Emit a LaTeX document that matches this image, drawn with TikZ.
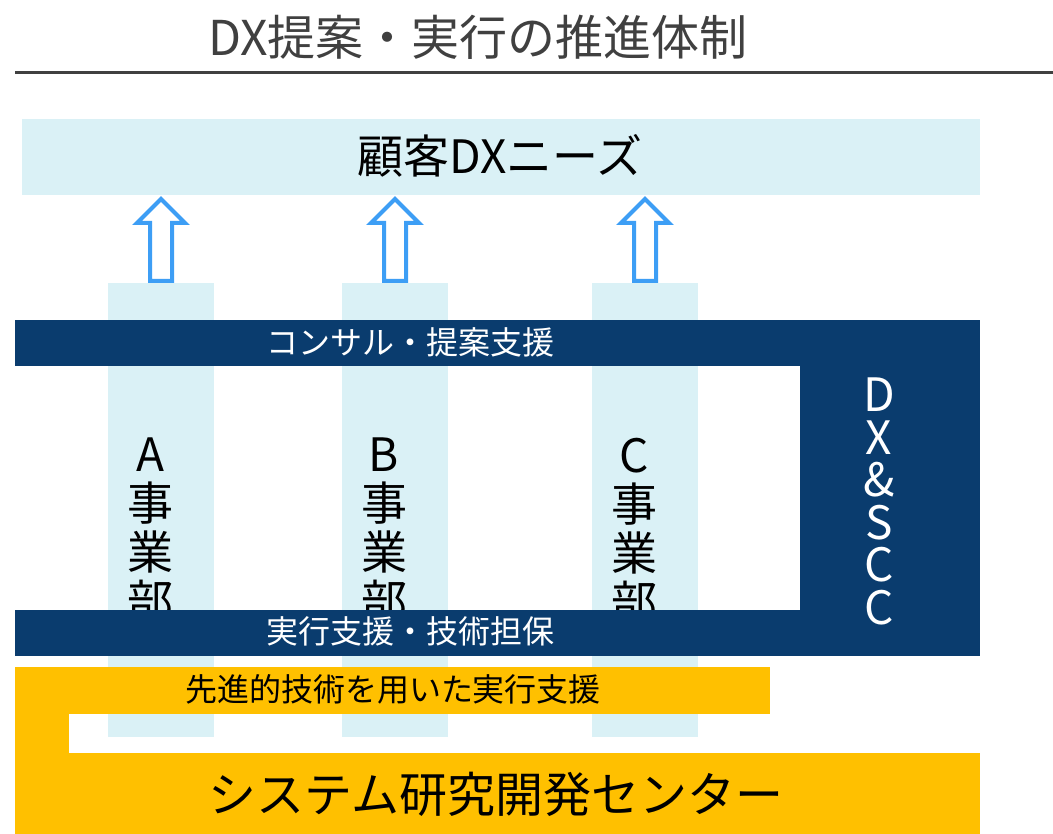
\documentclass[tikz,border=0pt]{standalone}
\usepackage{fontspec}
\setmainfont{Noto Sans CJK JP}
\usetikzlibrary{calc,positioning}
\definecolor{navy}{HTML}{0A3C6E}
\definecolor{paleblue}{HTML}{DAF1F6}
\definecolor{gold}{HTML}{FFC000}
\definecolor{arrowblue}{HTML}{3D9EF5}
\definecolor{titlegray}{HTML}{404040}

\begin{document}
\begin{tikzpicture}[x=1pt,y=-1pt,
    plain/.style={inner sep=0, outer sep=0},
    pale/.style={plain, fill=paleblue},
    navybox/.style={plain, fill=navy},
    goldbox/.style={plain, fill=gold},
    coltext/.style={plain, align=center, font=\fontsize{46}{49}\selectfont},
    bandtext/.style={plain, text=white, font=\fontsize{32}{32}\selectfont},
    upblock/.style={draw=arrowblue, fill=white, line width=4pt, line join=miter}]
    \useasboundingbox (0,0) rectangle (1053,834);

    % title and rule
    \node[plain, text=titlegray, font=\fontsize{48}{48}\selectfont] (title) at (478,37) {DX提案・実行の推進体制};
    \draw[titlegray, line width=3pt] (15,73) -- (1053,73);

    \node[pale, anchor=north west, minimum width=958, minimum height=76] (needs) at (22,119) {};
    \node[plain, font=\fontsize{46}{46}\selectfont] (needslbl) at (500,156) {顧客DXニーズ};

    % divisions
    \foreach \n/\x/\t in {colA/161/A, colB/395/B, colC/645/C} {
        \node[pale, anchor=north, minimum width=106, minimum height=454] (\n) at (\x,283) {};
        \node[coltext, anchor=north] (\n txt) at ($(\n.north)+(-11,155)$) {\t\\事\\業\\部};
        \draw[upblock] ($(\n.north)+(-11,-2)$) -- ++(0,-58) -- ++(-13,0) -- ++(24,-24)
            -- ++(24,24) -- ++(-13,0) -- ++(0,58) -- cycle;
    }

    % DX&SCC
    \node[navybox, anchor=north west, minimum width=965, minimum height=46] (consult) at (15,320) {};
    \node[navybox, anchor=north west, minimum width=965, minimum height=46] (execband) at (15,610) {};
    \node[navybox, anchor=north west, minimum width=180, minimum height=336] (dxscc) at (800,320) {};
    \node[bandtext] (consultlbl) at (410,342) {コンサル・提案支援};
    \node[bandtext] (execlbl) at (410,631) {実行支援・技術担保};
    \node[plain, text=white, align=center, anchor=north, font=\fontsize{46}{42.5}\selectfont]
        (dxscclbl) at (879,378) {D\\X\\\&\\S\\C\\C};

    % system lab
    \node[goldbox, anchor=north west, minimum width=755, minimum height=47] (advband) at (15,667) {};
    \node[goldbox, anchor=north west, minimum width=54, minimum height=167] (labside) at (15,667) {};
    \node[goldbox, anchor=north west, minimum width=965, minimum height=81] (lab) at (15,753) {};
    \node[plain, font=\fontsize{32}{32}\selectfont] (advlbl) at (393,689) {先進的技術を用いた実行支援};
    \node[plain, font=\fontsize{48}{48}\selectfont] (lablbl) at (496,794) {システム研究開発センター};
\end{tikzpicture}
\end{document}
